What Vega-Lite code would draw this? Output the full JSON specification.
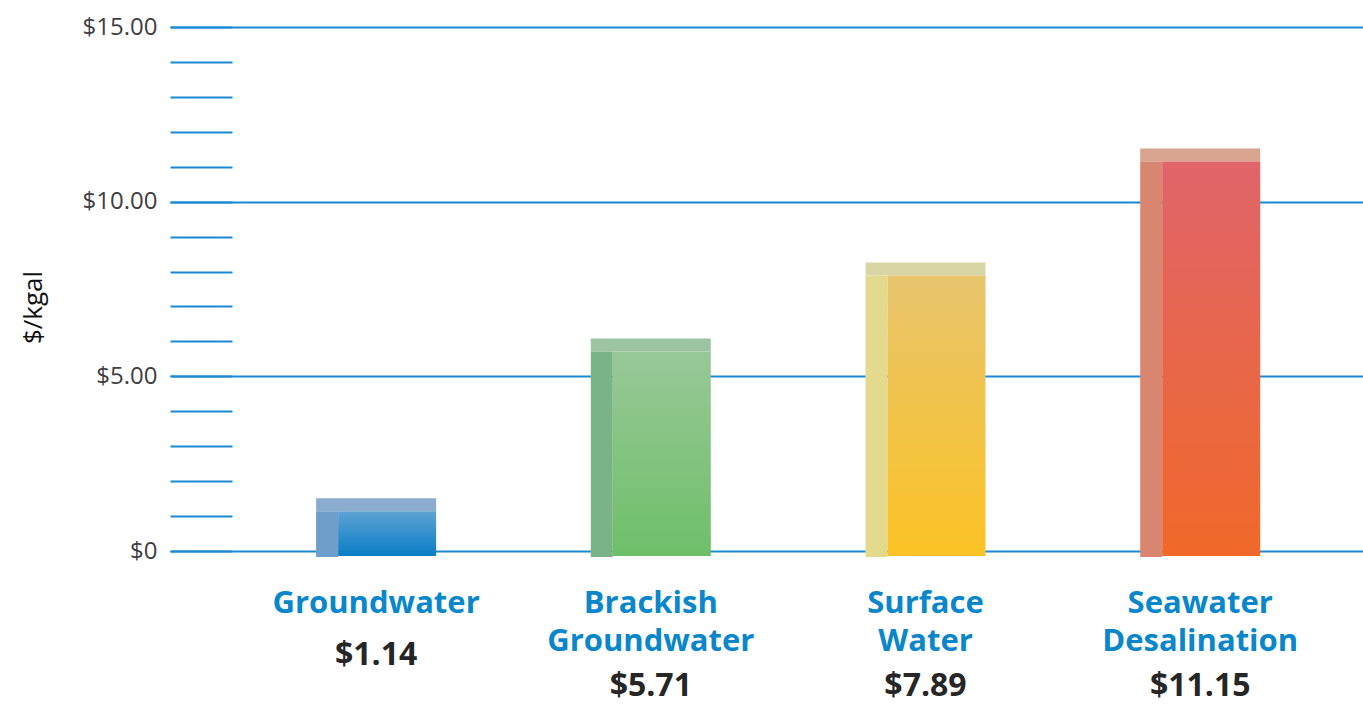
{
  "$schema": "https://vega.github.io/schema/vega-lite/v6.json",
  "width": 1193,
  "height": 524,
  "autosize": {"type": "none"},
  "padding": {"left": 170, "top": 27, "right": 0, "bottom": 156},
  "background": "white",
  "config": {"view": {"stroke": null}, "font": "Open Sans"},
  "data": {"values": [
    {"source": "Groundwater", "cost": 1.14},
    {"source": "Brackish Groundwater", "cost": 5.71},
    {"source": "Surface Water", "cost": 7.89},
    {"source": "Seawater Desalination", "cost": 11.15}
  ]},
  "encoding": {
    "x": {
      "field": "source", "type": "nominal", "sort": null,
      "scale": {"paddingInner": 0.563, "paddingOuter": 0.453, "align": 0.587},
      "axis": {
        "title": null, "domain": false, "ticks": false, "grid": false, "labelAngle": 0,
        "labelExpr": "split(datum.label, ' ')",
        "labelFont": "Open Sans", "labelFontWeight": "bold", "labelFontSize": 31,
        "labelColor": "#0a86cb", "labelLineHeight": 38, "labelBaseline": "top",
        "labelPadding": 37, "labelLimit": 0
      }
    },
    "y": {
      "field": "cost", "type": "quantitative",
      "scale": {"domain": [0, 15], "nice": false},
      "axis": {
        "title": "$/kgal", "titleFont": "Open Sans", "titleFontWeight": "normal",
        "titleFontSize": 26, "titleColor": "#111111", "titlePadding": 36, "titleY": 280,
        "values": [0, 1, 2, 3, 4, 5, 6, 7, 8, 9, 10, 11, 12, 13, 14, 15],
        "labelExpr": "datum.value % 5 === 0 ? (datum.value === 0 ? '$0' : '$' + format(datum.value, '.2f')) : ''",
        "labelFont": "Open Sans", "labelFontSize": 24, "labelColor": "#404040",
        "labelPadding": 75, "domain": false,
        "ticks": true, "tickSize": -62, "tickColor": "#1a8ad4", "tickWidth": 2,
        "grid": true, "gridColor": "#1a8ad4", "gridWidth": 2,
        "gridOpacity": {"condition": {"test": "datum.value % 5 === 0", "value": 1}, "value": 0}
      }
    }
  },
  "layer": [
    {
      "mark": {"type": "bar", "width": 120, "y2Offset": -13},
      "encoding": {
        "y2": {"field": "cost"},
        "color": {
          "field": "source", "type": "nominal", "legend": null,
          "scale": {
            "domain": ["Groundwater", "Brackish Groundwater", "Surface Water", "Seawater Desalination"],
            "range": ["#8aaccf", "#9cc4a0", "#d9d6a6", "#d8a590"]
          }
        }
      }
    },
    {
      "mark": {"type": "bar", "width": 22, "xOffset": -49, "y2Offset": 6},
      "encoding": {
        "y2": {"datum": 0},
        "color": {
          "field": "source", "type": "nominal", "legend": null,
          "scale": {
            "domain": ["Groundwater", "Brackish Groundwater", "Surface Water", "Seawater Desalination"],
            "range": ["#6e9fcb", "#7ab486", "#e3da8d", "#d8866f"]
          }
        }
      }
    },
    {
      "transform": [{"filter": "datum.source === 'Groundwater'"}],
      "mark": {"type": "bar", "width": 98, "xOffset": 11, "y2Offset": 5,
        "fill": {"gradient": "linear", "x1": 0, "y1": 0, "x2": 0, "y2": 1,
          "stops": [{"offset": 0, "color": "#5ea3d3"}, {"offset": 1, "color": "#0a7dc5"}]}},
      "encoding": {"y2": {"datum": 0}}
    },
    {
      "transform": [{"filter": "datum.source === 'Brackish Groundwater'"}],
      "mark": {"type": "bar", "width": 98, "xOffset": 11, "y2Offset": 5,
        "fill": {"gradient": "linear", "x1": 0, "y1": 0, "x2": 0, "y2": 1,
          "stops": [{"offset": 0, "color": "#98c898"}, {"offset": 1, "color": "#6ebf68"}]}},
      "encoding": {"y2": {"datum": 0}}
    },
    {
      "transform": [{"filter": "datum.source === 'Surface Water'"}],
      "mark": {"type": "bar", "width": 98, "xOffset": 11, "y2Offset": 5,
        "fill": {"gradient": "linear", "x1": 0, "y1": 0, "x2": 0, "y2": 1,
          "stops": [{"offset": 0, "color": "#e8c56e"}, {"offset": 1, "color": "#fcc325"}]}},
      "encoding": {"y2": {"datum": 0}}
    },
    {
      "transform": [{"filter": "datum.source === 'Seawater Desalination'"}],
      "mark": {"type": "bar", "width": 98, "xOffset": 11, "y2Offset": 5,
        "fill": {"gradient": "linear", "x1": 0, "y1": 0, "x2": 0, "y2": 1,
          "stops": [{"offset": 0, "color": "#e0646a"}, {"offset": 1, "color": "#f0692a"}]}},
      "encoding": {"y2": {"datum": 0}}
    },
    {
      "transform": [{"filter": "indexof(datum.source, ' ') < 0"}],
      "mark": {"type": "text", "dy": 104, "baseline": "middle", "align": "center",
        "font": "Open Sans", "fontSize": 32, "fontWeight": "bold", "color": "#262626"},
      "encoding": {
        "y": {"datum": 0, "type": "quantitative"},
        "text": {"field": "cost", "type": "quantitative", "format": "$.2f"}
      }
    },
    {
      "transform": [{"filter": "indexof(datum.source, ' ') >= 0"}],
      "mark": {"type": "text", "dy": 135, "baseline": "middle", "align": "center",
        "font": "Open Sans", "fontSize": 32, "fontWeight": "bold", "color": "#262626"},
      "encoding": {
        "y": {"datum": 0, "type": "quantitative"},
        "text": {"field": "cost", "type": "quantitative", "format": "$.2f"}
      }
    }
  ],
  "resolve": {"scale": {"color": "independent"}}
}
